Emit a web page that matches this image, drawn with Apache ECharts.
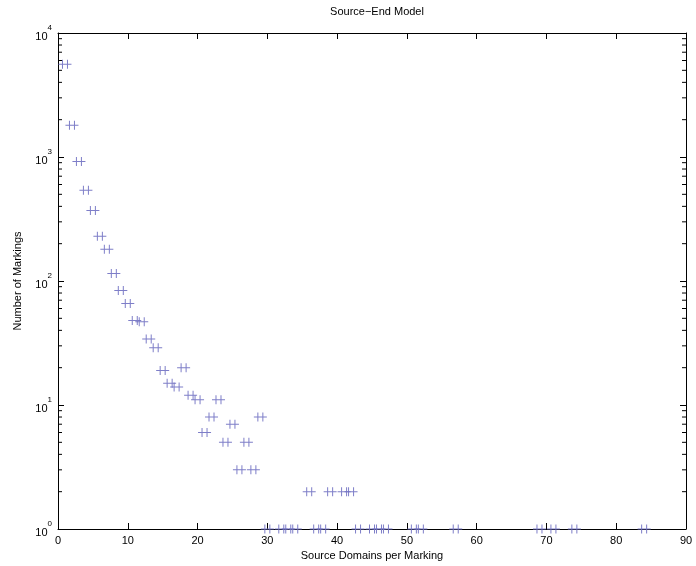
<!DOCTYPE html>
<html>
<head>
<meta charset="utf-8">
<title>Source-End Model</title>
<script src="https://cdn.jsdelivr.net/npm/echarts@6/dist/echarts.min.js"></script>
<style>
  html, body { margin: 0; padding: 0; background: #fff; }
  #chart { width: 696px; height: 566px; }
</style>
</head>
<body>
<div id="chart"></div>
<script>
// source domains per marking, and how many markings had that count
var domains  = [1, 2, 3, 4, 5, 6, 7, 8, 9, 10, 11, 12, 13, 14, 15, 16, 17, 18, 19, 20,
                21, 22, 23, 24, 25, 26, 27, 28, 29, 30, 32, 33, 34, 36, 37, 38, 39, 41, 42,
                43, 45, 46, 47, 51, 52, 57, 69, 71, 74, 84];
var markings = [5600, 1800, 920, 540, 370, 230, 180, 115, 84, 66, 48, 47, 34, 29, 19, 15, 14, 20, 12, 11,
                6, 8, 11, 5, 7, 3, 5, 3, 8, 1, 1, 1, 1, 2, 1, 1, 2, 2, 2,
                1, 1, 1, 1, 1, 1, 1, 1, 1, 1, 1];

var xTicks = [0, 10, 20, 30, 40, 50, 60, 70, 80, 90];
var yDecades = [1, 10, 100, 1000, 10000];
var minorSteps = [2, 3, 4, 5, 6, 7, 8, 9];

var FONT = 'Liberation Sans, Arial, sans-serif';
var markColor = '#7070c2';

// minor log ticks, 2..9 inside each decade
var minorData = [];
yDecades.slice(0, -1).forEach(function (d) {
  minorSteps.forEach(function (s) { minorData.push([xTicks[0], d * s]); });
});

var chart = echarts.init(document.getElementById('chart'));

var frameAxis = {
  axisLine: { onZero: false, lineStyle: { color: '#000', width: 1 } },
  axisTick: { inside: true, length: 6, lineStyle: { color: '#000', width: 1 } },
  splitLine: { show: false }
};

function supLabel(v) {
  var p = Math.round(Math.log(v) / Math.LN10);
  return '{b|10}{s|' + p + '}';
}

var option = {
  backgroundColor: '#fff',
  animation: false,
  title: {
    text: 'Source\u2212End Model',
    left: 372,
    top: 1,
    textAlign: 'center',
    textStyle: { fontSize: 11, fontWeight: 'normal', color: '#000', fontFamily: FONT }
  },
  grid: { left: 58, right: 10, top: 33, bottom: 37, outerBoundsMode: 'none' },
  xAxis: [
    Object.assign({
      type: 'value', min: 0, max: 90, interval: 10, position: 'bottom',
      name: 'Source Domains per Marking', nameLocation: 'middle', nameGap: 19,
      nameTextStyle: { fontSize: 11, color: '#000', fontFamily: FONT },
      axisLabel: { color: '#000', fontSize: 11, margin: 6, fontFamily: FONT }
    }, frameAxis),
    Object.assign({
      type: 'value', min: 0, max: 90, interval: 10, position: 'top',
      axisLabel: { show: false }
    }, frameAxis)
  ],
  yAxis: [
    Object.assign({
      type: 'log', logBase: 10, min: 1, max: 10000, position: 'left',
      name: 'Number of Markings', nameLocation: 'middle', nameGap: 35,
      nameTextStyle: { fontSize: 11, color: '#000', fontFamily: FONT },
      axisLabel: {
        color: '#000', margin: 6, fontFamily: FONT,
        formatter: supLabel,
        rich: {
          b: { fontSize: 11, lineHeight: 18, verticalAlign: 'bottom', fontFamily: FONT, color: '#000' },
          s: { fontSize: 8, lineHeight: 18, verticalAlign: 'top', fontFamily: FONT, color: '#000' }
        }
      }
    }, frameAxis),
    Object.assign({
      type: 'log', logBase: 10, min: 1, max: 10000, position: 'right',
      axisLabel: { show: false }
    }, frameAxis)
  ],
  series: [
    {
      type: 'scatter',
      data: domains.map(function (d, i) { return [d, markings[i]]; }),
      symbol: 'path://M0,4h13v1h-13z M3.5,0h1v9h-1z M8.5,0h1v9h-1z',
      symbolSize: [13, 9],
      itemStyle: { color: markColor, opacity: 0.9 },
      z: 5
    },
    {
      type: 'custom',
      data: minorData,
      silent: true,
      renderItem: function (params, api) {
        var v = api.value(1);
        var l = api.coord([0, v]);
        var r = api.coord([90, v]);
        return {
          type: 'group',
          children: [
            { type: 'line', shape: { x1: l[0], y1: l[1], x2: l[0] + 4, y2: l[1] }, style: { stroke: '#000', lineWidth: 1 } },
            { type: 'line', shape: { x1: r[0], y1: r[1], x2: r[0] - 4, y2: r[1] }, style: { stroke: '#000', lineWidth: 1 } }
          ]
        };
      }
    }
  ]
};

chart.setOption(option);
</script>
</body>
</html>
